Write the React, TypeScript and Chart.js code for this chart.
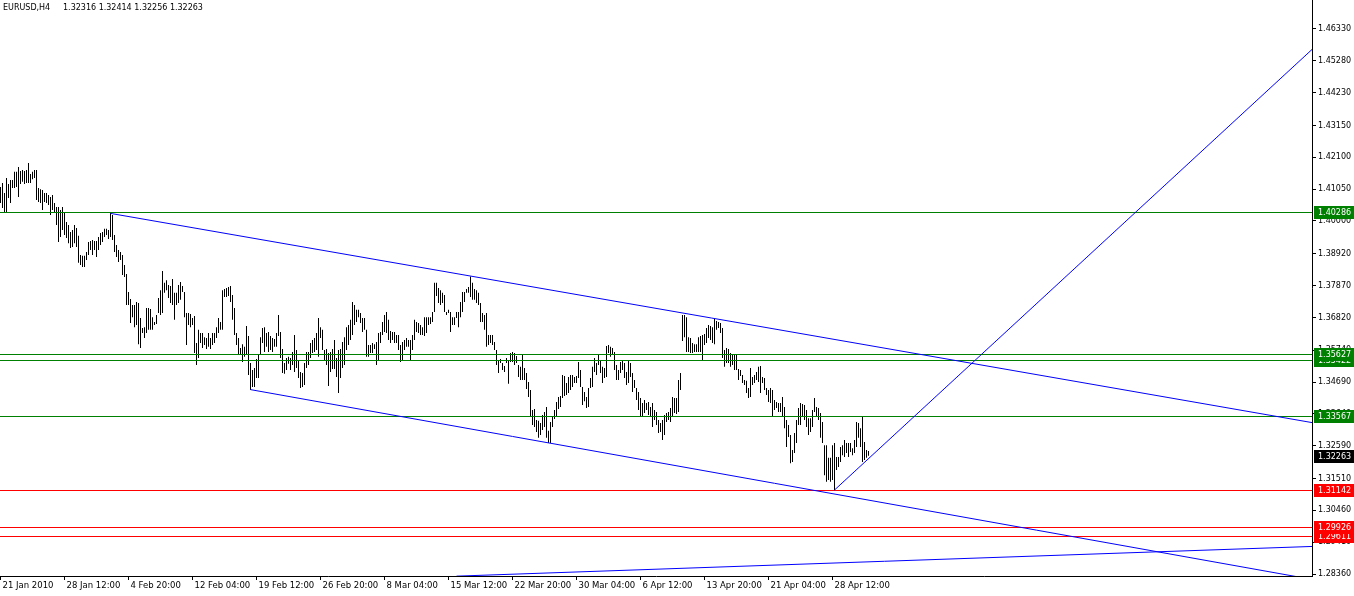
import { useEffect, useRef } from 'react';
import { Chart, registerables } from 'chart.js';

Chart.register(...registerables);

// ---- header ----
const SYMBOL = 'EURUSD,H4';
const LAST_OHLC = [1.32316, 1.32414, 1.32256, 1.32263];

// ---- H4 bars (high / low), one per bar, oldest first ----
const HIGHS = [
  1.4112, 1.4125, 1.4092, 1.4142, 1.4122, 1.4135, 1.4135, 1.4162, 1.4162, 1.4178,
  1.4165, 1.4168, 1.4165, 1.4168, 1.4191, 1.4155, 1.4162, 1.4168, 1.4168, 1.4109,
  1.4105, 1.4102, 1.4092, 1.4092, 1.4086, 1.4079, 1.4086, 1.4059, 1.4046, 1.4046,
  1.4036, 1.4046, 1.4030, 1.3997, 1.3987, 1.3964, 1.3970, 1.3987, 1.3977, 1.3951,
  1.3888, 1.3885, 1.3885, 1.3898, 1.3931, 1.3934, 1.3937, 1.3934, 1.3934, 1.3947,
  1.3960, 1.3964, 1.3974, 1.3974, 1.3970, 1.4028, 1.4020, 1.3954, 1.3921, 1.3904,
  1.3898, 1.3888, 1.3855, 1.3825, 1.3766, 1.3743, 1.3723, 1.3723, 1.3733, 1.3730,
  1.3680, 1.3647, 1.3650, 1.3713, 1.3713, 1.3710, 1.3683, 1.3667, 1.3690, 1.3746,
  1.3772, 1.3835, 1.3796, 1.3805, 1.3789, 1.3786, 1.3809, 1.3763, 1.3763, 1.3789,
  1.3799, 1.3786, 1.3766, 1.3697, 1.3697, 1.3693, 1.3680, 1.3687, 1.3598, 1.3641,
  1.3631, 1.3631, 1.3617, 1.3614, 1.3631, 1.3614, 1.3631, 1.3631, 1.3650, 1.3680,
  1.3667, 1.3772, 1.3776, 1.3779, 1.3782, 1.3786, 1.3756, 1.3713, 1.3631, 1.3614,
  1.3581, 1.3594, 1.3585, 1.3654, 1.3621, 1.3532, 1.3509, 1.3515, 1.3545, 1.3558,
  1.3617, 1.3647, 1.3650, 1.3631, 1.3634, 1.3621, 1.3614, 1.3611, 1.3631, 1.3690,
  1.3634, 1.3578, 1.3532, 1.3548, 1.3552, 1.3548, 1.3568, 1.3624, 1.3575, 1.3542,
  1.3502, 1.3499, 1.3532, 1.3568, 1.3568, 1.3598, 1.3608, 1.3614, 1.3631, 1.3680,
  1.3650, 1.3641, 1.3575, 1.3578, 1.3565, 1.3568, 1.3578, 1.3608, 1.3548, 1.3575,
  1.3578, 1.3601, 1.3617, 1.3650, 1.3657, 1.3674, 1.3733, 1.3723, 1.3707, 1.3707,
  1.3697, 1.3680, 1.3680, 1.3641, 1.3591, 1.3591, 1.3598, 1.3594, 1.3601, 1.3631,
  1.3634, 1.3667, 1.3690, 1.3700, 1.3674, 1.3637, 1.3634, 1.3634, 1.3624, 1.3624,
  1.3591, 1.3601, 1.3608, 1.3614, 1.3608, 1.3608, 1.3624, 1.3674, 1.3667, 1.3664,
  1.3657, 1.3650, 1.3683, 1.3683, 1.3683, 1.3683, 1.3700, 1.3796, 1.3796, 1.3779,
  1.3772, 1.3763, 1.3756, 1.3700, 1.3707, 1.3700, 1.3683, 1.3683, 1.3700, 1.3700,
  1.3733, 1.3766, 1.3766, 1.3776, 1.3782, 1.3817, 1.3796, 1.3776, 1.3772, 1.3763,
  1.3730, 1.3697, 1.3690, 1.3697, 1.3624, 1.3624, 1.3624, 1.3601, 1.3575, 1.3542,
  1.3545, 1.3532, 1.3522, 1.3548, 1.3542, 1.3565, 1.3568, 1.3565, 1.3555, 1.3525,
  1.3519, 1.3558, 1.3515, 1.3499, 1.3469, 1.3443, 1.3377, 1.3380, 1.3344, 1.3341,
  1.3334, 1.3360, 1.3370, 1.3387, 1.3308, 1.3337, 1.3354, 1.3377, 1.3403, 1.3420,
  1.3423, 1.3492, 1.3489, 1.3466, 1.3486, 1.3492, 1.3492, 1.3486, 1.3489, 1.3535,
  1.3509, 1.3453, 1.3436, 1.3420, 1.3449, 1.3482, 1.3519, 1.3548, 1.3532, 1.3558,
  1.3542, 1.3519, 1.3515, 1.3588, 1.3591, 1.3585, 1.3581, 1.3568, 1.3525, 1.3509,
  1.3535, 1.3538, 1.3532, 1.3502, 1.3542, 1.3532, 1.3499, 1.3476, 1.3449, 1.3436,
  1.3416, 1.3400, 1.3410, 1.3400, 1.3403, 1.3387, 1.3400, 1.3377, 1.3370, 1.3344,
  1.3334, 1.3344, 1.3360, 1.3367, 1.3370, 1.3383, 1.3420, 1.3416, 1.3416, 1.3476,
  1.3499, 1.3690, 1.3690, 1.3683, 1.3617, 1.3614, 1.3598, 1.3594, 1.3594, 1.3617,
  1.3621, 1.3624, 1.3627, 1.3647, 1.3657, 1.3654, 1.3650, 1.3677, 1.3670, 1.3667,
  1.3664, 1.3647, 1.3575, 1.3581, 1.3578, 1.3565, 1.3558, 1.3561, 1.3558, 1.3512,
  1.3509, 1.3492, 1.3476, 1.3473, 1.3449, 1.3515, 1.3486, 1.3492, 1.3502, 1.3519,
  1.3522, 1.3486, 1.3482, 1.3449, 1.3443, 1.3449, 1.3443, 1.3410, 1.3403, 1.3400,
  1.3400, 1.3420, 1.3387, 1.3344, 1.3327, 1.3294, 1.3245, 1.3301, 1.3344, 1.3383,
  1.3400, 1.3397, 1.3393, 1.3377, 1.3350, 1.3350, 1.3377, 1.3416, 1.3387, 1.3383,
  1.3367, 1.3337, 1.3261, 1.3261, 1.3219, 1.3219, 1.3261, 1.3268, 1.3222, 1.3222,
  1.3255, 1.3261, 1.3278, 1.3268, 1.3268, 1.3268, 1.3251, 1.3278, 1.3337, 1.3334,
  1.3317, 1.3356, 1.3271, 1.3245, 1.32414,
];

const LOWS = [
  1.4059, 1.4043, 1.4026, 1.4026, 1.4076, 1.4059, 1.4109, 1.4109, 1.4112, 1.4079,
  1.4122, 1.4129, 1.4122, 1.4125, 1.4125, 1.4125, 1.4138, 1.4142, 1.4069, 1.4063,
  1.4059, 1.4036, 1.4063, 1.4059, 1.4053, 1.4020, 1.4036, 1.4026, 1.3987, 1.3931,
  1.3947, 1.3970, 1.3954, 1.3944, 1.3927, 1.3911, 1.3914, 1.3927, 1.3914, 1.3862,
  1.3855, 1.3848, 1.3848, 1.3871, 1.3888, 1.3904, 1.3888, 1.3904, 1.3881, 1.3904,
  1.3921, 1.3931, 1.3947, 1.3954, 1.3941, 1.3947, 1.3937, 1.3898, 1.3881, 1.3865,
  1.3871, 1.3822, 1.3815, 1.3723, 1.3723, 1.3664, 1.3683, 1.3650, 1.3657, 1.3594,
  1.3581, 1.3631, 1.3614, 1.3631, 1.3641, 1.3641, 1.3641, 1.3657, 1.3660, 1.3697,
  1.3690, 1.3697, 1.3763, 1.3772, 1.3746, 1.3730, 1.3723, 1.3674, 1.3723, 1.3730,
  1.3740, 1.3766, 1.3683, 1.3591, 1.3657, 1.3650, 1.3657, 1.3565, 1.3525, 1.3548,
  1.3598, 1.3581, 1.3591, 1.3578, 1.3585, 1.3578, 1.3591, 1.3598, 1.3614, 1.3631,
  1.3641, 1.3641, 1.3749, 1.3749, 1.3753, 1.3733, 1.3674, 1.3624, 1.3591, 1.3561,
  1.3558, 1.3535, 1.3552, 1.3561, 1.3492, 1.3443, 1.3453, 1.3453, 1.3482, 1.3482,
  1.3561, 1.3598, 1.3568, 1.3585, 1.3568, 1.3575, 1.3568, 1.3585, 1.3585, 1.3621,
  1.3548, 1.3499, 1.3496, 1.3509, 1.3529, 1.3509, 1.3525, 1.3502, 1.3515, 1.3482,
  1.3449, 1.3453, 1.3459, 1.3515, 1.3525, 1.3548, 1.3565, 1.3568, 1.3575, 1.3552,
  1.3614, 1.3575, 1.3542, 1.3525, 1.3456, 1.3502, 1.3512, 1.3512, 1.3486, 1.3433,
  1.3482, 1.3515, 1.3525, 1.3575, 1.3591, 1.3608, 1.3624, 1.3657, 1.3667, 1.3683,
  1.3664, 1.3634, 1.3641, 1.3552, 1.3552, 1.3565, 1.3565, 1.3578, 1.3525, 1.3542,
  1.3598, 1.3624, 1.3634, 1.3631, 1.3608, 1.3598, 1.3608, 1.3598, 1.3598, 1.3575,
  1.3535, 1.3542, 1.3575, 1.3585, 1.3585, 1.3542, 1.3575, 1.3608, 1.3634, 1.3631,
  1.3624, 1.3624, 1.3621, 1.3631, 1.3657, 1.3660, 1.3667, 1.3700, 1.3753, 1.3730,
  1.3723, 1.3730, 1.3700, 1.3690, 1.3697, 1.3634, 1.3657, 1.3657, 1.3680, 1.3650,
  1.3683, 1.3700, 1.3733, 1.3763, 1.3763, 1.3749, 1.3740, 1.3740, 1.3730, 1.3723,
  1.3667, 1.3667, 1.3641, 1.3585, 1.3591, 1.3598, 1.3591, 1.3575, 1.3525, 1.3499,
  1.3532, 1.3509, 1.3502, 1.3532, 1.3463, 1.3535, 1.3535, 1.3525, 1.3532, 1.3486,
  1.3476, 1.3476, 1.3476, 1.3446, 1.3420, 1.3354, 1.3327, 1.3321, 1.3304, 1.3285,
  1.3294, 1.3311, 1.3321, 1.3285, 1.3268, 1.3268, 1.3321, 1.3347, 1.3354, 1.3380,
  1.3387, 1.3416, 1.3423, 1.3426, 1.3433, 1.3443, 1.3453, 1.3466, 1.3466, 1.3482,
  1.3453, 1.3393, 1.3406, 1.3383, 1.3387, 1.3449, 1.3453, 1.3502, 1.3492, 1.3525,
  1.3499, 1.3466, 1.3482, 1.3486, 1.3565, 1.3552, 1.3558, 1.3509, 1.3476, 1.3476,
  1.3499, 1.3509, 1.3482, 1.3459, 1.3466, 1.3486, 1.3436, 1.3449, 1.3410, 1.3377,
  1.3354, 1.3354, 1.3367, 1.3377, 1.3360, 1.3354, 1.3321, 1.3344, 1.3327, 1.3301,
  1.3304, 1.3278, 1.3294, 1.3337, 1.3344, 1.3337, 1.3354, 1.3367, 1.3364, 1.3370,
  1.3443, 1.3604, 1.3617, 1.3568, 1.3568, 1.3565, 1.3565, 1.3568, 1.3568, 1.3568,
  1.3568, 1.3542, 1.3591, 1.3598, 1.3614, 1.3608, 1.3598, 1.3594, 1.3641, 1.3647,
  1.3631, 1.3548, 1.3519, 1.3532, 1.3532, 1.3519, 1.3525, 1.3509, 1.3509, 1.3476,
  1.3489, 1.3466, 1.3459, 1.3433, 1.3416, 1.3420, 1.3459, 1.3466, 1.3476, 1.3469,
  1.3433, 1.3466, 1.3443, 1.3426, 1.3403, 1.3400, 1.3354, 1.3377, 1.3383, 1.3370,
  1.3370, 1.3354, 1.3317, 1.3255, 1.3288, 1.3201, 1.3205, 1.3235, 1.3268, 1.3327,
  1.3327, 1.3354, 1.3344, 1.3321, 1.3294, 1.3304, 1.3321, 1.3370, 1.3354, 1.3344,
  1.3285, 1.3268, 1.3162, 1.3140, 1.3146, 1.3140, 1.3146, 1.3113, 1.3179, 1.3189,
  1.3205, 1.3228, 1.3222, 1.3235, 1.3222, 1.3238, 1.3228, 1.3235, 1.3255, 1.3285,
  1.3255, 1.3205, 1.3212, 1.3219, 1.32256,
];

// ---- time axis ----
const TIME_TICK_BARS = [0, 32, 64, 96, 128, 160, 192, 224, 256, 288, 320, 352, 384, 416];
const TIME_LABELS = [
  '21 Jan 2010', '28 Jan 12:00', '4 Feb 20:00', '12 Feb 04:00', '19 Feb 12:00',
  '26 Feb 20:00', '8 Mar 04:00', '15 Mar 12:00', '22 Mar 20:00', '30 Mar 04:00',
  '6 Apr 12:00', '13 Apr 20:00', '21 Apr 04:00', '28 Apr 12:00',
];

// ---- price axis ----
const PRICE_TICKS = [
  1.4633, 1.4528, 1.4423, 1.4315, 1.421, 1.4105, 1.4, 1.3892, 1.3787,
  1.3682, 1.3574, 1.3469, 1.3364, 1.3259, 1.3151, 1.3046, 1.2941, 1.2836,
];
const X_MIN = -0.25;
const X_MAX = 655.75;
const Y_MIN = 1.28295;
const Y_MAX = 1.47286;

// ---- horizontal levels ----
const GREEN_LEVELS = [1.40286, 1.35627, 1.35422, 1.33567];
const RED_LEVELS = [1.31142, 1.29926, 1.29611];
const BID = 1.32263;

// ---- trendlines: [barIndex, price] start and end ----
const UPPER_CHANNEL = [[55, 1.4025], [656, 1.3335]];
const LOWER_CHANNEL = [[125, 1.3444], [656, 1.2818]];
const RISING_LINE = [[417, 1.3113], [656, 1.4567]];
const BOTTOM_LINE = [[228, 1.2829], [656, 1.2927]];

const GREEN = 'rgb(0,128,0)';
const RED = 'rgb(255,0,0)';
const BLUE = 'rgb(0,0,255)';
const FONT = 'DejaVu Sans';

// keeps 1px horizontal level lines on whole pixel rows
const snapPlugin = {
  id: 'snapLevels',
  beforeDatasetDraw(chart: any, args: any) {
    const ds = chart.data.datasets[args.index];
    if (!ds.snapY) return;
    const py = chart.scales.y.getPixelForValue(ds.data[0].y);
    const target = Math.round(py) + 0.5;
    chart.ctx.save();
    chart.ctx.translate(0, target - py);
  },
  afterDatasetDraw(chart: any, args: any) {
    const ds = chart.data.datasets[args.index];
    if (!ds.snapY) return;
    chart.ctx.restore();
  },
};

const overlayPlugin = {
  id: 'mt4Overlay',
  afterDraw(chart: any) {
    const { ctx } = chart;
    const y = chart.scales.y;
    ctx.save();
    ctx.font = `8px "${FONT}"`;
    ctx.textBaseline = 'middle';
    ctx.textAlign = 'left';
    ctx.fillStyle = '#000';
    ctx.fillText(SYMBOL, 3, 8);
    ctx.fillText(LAST_OHLC.map((v) => v.toFixed(5)).join(' '), 63, 8);

    const box = (v: number, color: string) => {
      const py = Math.round(y.getPixelForValue(v));
      ctx.fillStyle = color;
      ctx.fillRect(y.left + 2, py - 6, y.right - y.left - 2, 13);
      ctx.fillStyle = '#fff';
      ctx.fillText(v.toFixed(5), y.left + 6, py + 1);
    };
    [...RED_LEVELS].sort((a, b) => a - b).forEach((v) => box(v, RED));
    [...GREEN_LEVELS].sort((a, b) => a - b).forEach((v) => box(v, GREEN));
    box(BID, '#000');
    ctx.restore();
  },
};

function lineDs(points: number[][], color: string, snapY = false) {
  return {
    type: 'line' as const,
    data: points.map((p) => ({ x: p[0], y: p[1] })),
    borderColor: color,
    borderWidth: 1,
    pointRadius: 0,
    fill: false,
    tension: 0,
    snapY,
  };
}

export default function App() {
  const ref = useRef<HTMLCanvasElement | null>(null);

  useEffect(() => {
    if (!ref.current) return;
    const bars = HIGHS.map((h, i) => ({ x: i, y: [LOWS[i], h] }));
    const levelDs = [
      ...GREEN_LEVELS.map((v) => lineDs([[X_MIN, v], [X_MAX, v]], GREEN, true)),
      ...RED_LEVELS.map((v) => lineDs([[X_MIN, v], [X_MAX, v]], RED, true)),
    ];
    const chart = new Chart(ref.current, {
      type: 'bar',
      data: {
        datasets: [
          lineDs(UPPER_CHANNEL, BLUE),
          lineDs(LOWER_CHANNEL, BLUE),
          lineDs(RISING_LINE, BLUE),
          lineDs(BOTTOM_LINE, BLUE),
          ...levelDs,
          {
            type: 'bar',
            data: bars,
            backgroundColor: '#000',
            borderWidth: 0,
            barThickness: 1,
            grouped: false,
            inflateAmount: 0,
          },
        ] as any,
      },
      options: {
        animation: false,
        responsive: true,
        maintainAspectRatio: false,
        events: [],
        layout: { padding: 0 },
        plugins: { legend: { display: false }, tooltip: { enabled: false }, title: { display: false } },
        scales: {
          x: {
            type: 'linear',
            position: 'bottom',
            min: X_MIN,
            max: X_MAX,
            offset: false,
            grid: { display: true, drawOnChartArea: false, drawTicks: true, tickLength: 4, color: '#000', tickColor: '#000', offset: false },
            border: { display: true, color: '#000', width: 1 },
            ticks: {
              autoSkip: false,
              maxRotation: 0,
              minRotation: 0,
              align: 'start',
              labelOffset: 2,
              padding: 1,
              color: '#000',
              font: { family: FONT, size: 8.5 },
              callback: (_v: any, i: number) => TIME_LABELS[i] ?? '',
            },
            afterBuildTicks: (s: any) => {
              s.ticks = TIME_TICK_BARS.map((v) => ({ value: v }));
            },
            afterFit: (s: any) => {
              s.height = 20;
              s.paddingLeft = 0;
              s.paddingRight = 0;
            },
          },
          y: {
            type: 'linear',
            position: 'right',
            min: Y_MIN,
            max: Y_MAX,
            grid: { display: true, drawOnChartArea: false, drawTicks: true, tickLength: 4, color: '#000', tickColor: '#000' },
            border: { display: true, color: '#000', width: 1 },
            ticks: {
              padding: 2,
              color: '#000',
              font: { family: FONT, size: 8 },
              callback: (v: any) => Number(v).toFixed(5),
            },
            afterBuildTicks: (s: any) => {
              s.ticks = PRICE_TICKS.map((v) => ({ value: v }));
            },
            afterFit: (s: any) => {
              s.width = 42;
              s.paddingTop = 0;
              s.paddingBottom = 0;
            },
          },
        },
      } as any,
      plugins: [snapPlugin, overlayPlugin],
    });
    return () => chart.destroy();
  }, []);

  return (
    <div style={{ position: 'fixed', left: 0, top: 0, width: 1354, height: 596, background: '#fff' }}>
      <canvas ref={ref} />
    </div>
  );
}
